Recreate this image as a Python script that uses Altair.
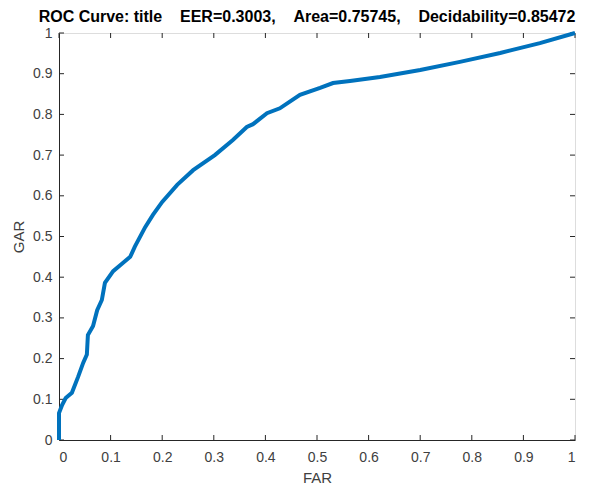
import altair as alt
import pandas as pd

far = [0, 0, 0.006, 0.013, 0.025, 0.037, 0.047, 0.054, 0.056, 0.066, 0.074, 0.083, 0.089,
       0.105, 0.122, 0.138, 0.147, 0.167, 0.182, 0.200, 0.229, 0.260, 0.302, 0.337, 0.364,
       0.376, 0.403, 0.428, 0.467, 0.506, 0.531, 0.564, 0.622, 0.700, 0.777, 0.855, 0.932, 1.0]
gar = [0, 0.066, 0.086, 0.103, 0.116, 0.155, 0.190, 0.210, 0.258, 0.280, 0.319, 0.344, 0.386,
       0.415, 0.433, 0.450, 0.475, 0.523, 0.553, 0.585, 0.627, 0.663, 0.700, 0.737, 0.769,
       0.776, 0.803, 0.815, 0.848, 0.865, 0.877, 0.882, 0.892, 0.909, 0.929, 0.951, 0.975, 1.0]
tick_values = [0, 0.1, 0.2, 0.3, 0.4, 0.5, 0.6, 0.7, 0.8, 0.9, 1.0]

sp = "\u00a0\u00a0\u00a0\u00a0"
title_text = "ROC Curve: title" + sp + "EER=0.3003," + sp + "Area=0.75745," + sp + "Decidability=0.85472"

W, H = 516, 407

df = pd.DataFrame({"FAR": far, "GAR": gar, "i": list(range(len(far)))})
ticks = pd.DataFrame({"v": tick_values})

xs = alt.Scale(domain=[0, 1], nice=False, zero=False)
ys = alt.Scale(domain=[0, 1], nice=False, zero=False)

axis_style = dict(grid=False, tickSize=0, domainColor="#262626", labelColor="#404040",
                  labelFont="Liberation Sans", labelFontSize=14, titleFont="Liberation Sans",
                  titleFontSize=15, titleFontWeight="normal", titleColor="#404040",
                  format=".1~f", values=tick_values)

line = alt.Chart(df).mark_line(color="#0072BD", strokeWidth=4, strokeCap="butt").encode(
    x=alt.X("FAR:Q", scale=xs, axis=alt.Axis(title="FAR", titlePadding=6, labelPadding=10, **axis_style)),
    y=alt.Y("GAR:Q", scale=ys, axis=alt.Axis(title="GAR", titlePadding=6, labelPadding=7, **axis_style)),
    order="i:O",
)

tk = dict(color="#262626", strokeWidth=1)
xb = alt.Chart(ticks).mark_rule(**tk).encode(
    x=alt.X("v:Q", scale=xs), y=alt.value(H), y2=alt.value(H - 5))
xt = alt.Chart(ticks).mark_rule(**tk).encode(
    x=alt.X("v:Q", scale=xs), y=alt.value(0), y2=alt.value(5))
yl = alt.Chart(ticks).mark_rule(**tk).encode(
    y=alt.Y("v:Q", scale=ys), x=alt.value(0), x2=alt.value(5))
yr = alt.Chart(ticks).mark_rule(**tk).encode(
    y=alt.Y("v:Q", scale=ys), x=alt.value(W), x2=alt.value(W - 5))

chart = alt.layer(xb, xt, yl, yr, line).properties(
    width=W, height=H,
    title=alt.Title(title_text, font="Liberation Sans", fontSize=16, fontWeight="bold",
                    color="black", anchor="middle", offset=0, dx=-10),
    autosize=alt.AutoSizeParams(type="none"),
    padding={"left": 51, "top": 25, "right": 20, "bottom": 47},
).configure_view(stroke="#262626", strokeWidth=1).configure(background="white")

chart.save("out.html", embed_options={"renderer": "svg", "actions": False})
